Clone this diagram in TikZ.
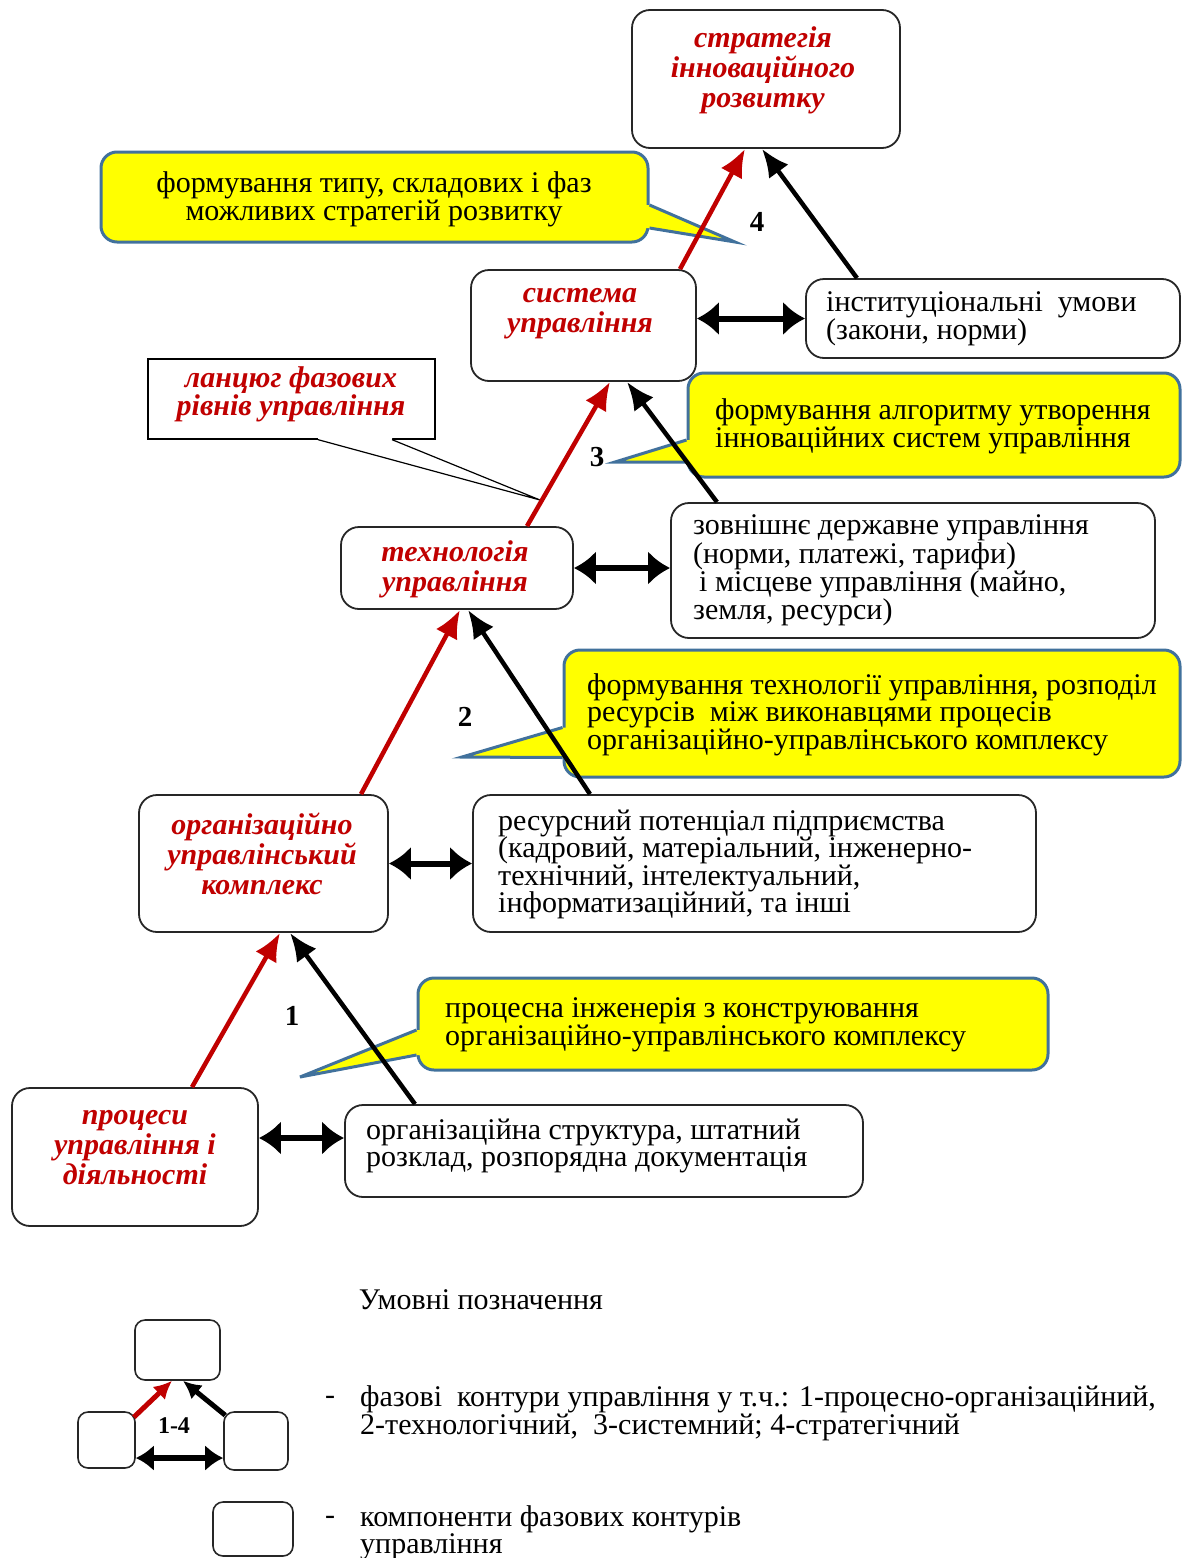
\documentclass[tikz,border=0pt]{standalone}
\usepackage{fontspec}
\setmainfont{Liberation Serif}
\usetikzlibrary{arrows.meta,calc}

\definecolor{lblred}{HTML}{C00000}
\definecolor{cofill}{HTML}{FFFF00}
\definecolor{coedge}{HTML}{41719C}

\newcommand\bodyfont{\fontsize{30}{26}\selectfont}
\newcommand\lblfont{\fontsize{30}{30}\selectfont\bfseries\itshape}

\begin{document}
\begin{tikzpicture}[x=1pt,y=-1pt,
  box/.style={draw=black!85, line width=1.8pt, rounded corners=18pt, fill=white, inner sep=0pt},
  minibox/.style={draw=black!85, line width=1.6pt, rounded corners=10pt, fill=white, inner sep=0pt},
  cobox/.style={draw=coedge, line width=3pt, rounded corners=16pt, fill=cofill, inner sep=0pt},
  coedgeline/.style={draw=coedge, line width=3pt, line join=miter},
  notebox/.style={draw=black, line width=1.3pt, fill=white, inner sep=0pt},
  redlbl/.style={text=lblred, font=\lblfont, align=center, inner sep=0pt, yshift=-2pt},
  bodytxt/.style={font=\bodyfont, align=left, anchor=west, inner sep=0pt, yshift=-3pt},
  numlbl/.style={font=\fontsize{29}{29}\selectfont\bfseries, inner sep=0pt},
  uparrow/.style={-{Latex[length=28pt,width=24pt]}, line width=4.5pt},
  redup/.style={uparrow, draw=lblred, color=lblred},
  blackup/.style={uparrow, draw=black, color=black},
  dblarrow/.style={{Latex[length=22pt,width=34pt]}-{Latex[length=22pt,width=34pt]}, line width=6pt},
  miniup/.style={-{Latex[length=18pt,width=18pt]}, line width=5pt},
  minidbl/.style={{Latex[length=18pt,width=26pt]}-{Latex[length=18pt,width=26pt]}, line width=6pt},
]
\useasboundingbox (0,0) rectangle (1182,1558);

% ---------- component boxes ----------
\node[box, minimum width=268pt, minimum height=138pt] (strat) at (766,79) {};
\node[box, minimum width=225pt, minimum height=111pt] (sys) at (583.5,325.5) {};
\node[box, minimum width=374pt, minimum height=79pt] (inst) at (993,318.5) {};
\node[box, minimum width=232pt, minimum height=82pt] (tech) at (457,568) {};
\node[box, minimum width=484pt, minimum height=135pt] (ext) at (913,570.5) {};
\node[box, minimum width=249pt, minimum height=137pt] (org) at (263.5,863.5) {};
\node[box, minimum width=563pt, minimum height=137pt] (res) at (754.5,863.5) {};
\node[box, minimum width=246pt, minimum height=138pt] (proc) at (135,1157) {};
\node[box, minimum width=518pt, minimum height=92pt] (ost) at (604,1151) {};

% ---------- yellow callouts ----------
% phase 4
\node[cobox, minimum width=547pt, minimum height=90pt] (c4) at (374.5,197) {};
\coordinate (c4tip) at (735,242);
\fill[cofill] ([xshift=-10pt,yshift=-8pt]c4.east) -- ([yshift=-8pt]c4.east) -- (c4tip)
  -- ([yshift=-31pt]c4.east) -- ([xshift=-10pt,yshift=-31pt]c4.east) -- cycle;
\draw[coedgeline] ([yshift=-8pt]c4.east) -- (c4tip) -- ([yshift=-31pt]c4.east);
% phase 3
\node[cobox, minimum width=492pt, minimum height=104pt] (c3) at (934,425) {};
\coordinate (c3tip) at (615,462);
\fill[cofill] ([xshift=10pt,yshift=-15pt]c3.west) -- ([yshift=-15pt]c3.west) -- (c3tip)
  -- ([yshift=-37pt]c3.west) -- ([xshift=10pt,yshift=-37pt]c3.west) -- cycle;
\draw[coedgeline] ([yshift=-15pt]c3.west) -- (c3tip) -- ([yshift=-37pt]c3.west);
% phase 2
\node[cobox, minimum width=616pt, minimum height=127pt] (c2) at (872,713.5) {};
\coordinate (c2tip) at (462,757);
\fill[cofill] ([xshift=10pt,yshift=-14pt]c2.west) -- ([yshift=-14pt]c2.west) -- (c2tip)
  -- ([yshift=-44pt]c2.west) -- ([xshift=10pt,yshift=-44pt]c2.west) -- cycle;
\draw[coedgeline] ([yshift=-14pt]c2.west) -- (c2tip) -- ([yshift=-44pt]c2.west);
% phase 1
\node[cobox, minimum width=630pt, minimum height=92pt] (c1) at (733,1024) {};
\coordinate (c1tip) at (300,1077);
\fill[cofill] ([xshift=10pt,yshift=-6pt]c1.west) -- ([yshift=-6pt]c1.west) -- (c1tip)
  -- ([yshift=-31pt]c1.west) -- ([xshift=10pt,yshift=-31pt]c1.west) -- cycle;
\draw[coedgeline] ([yshift=-6pt]c1.west) -- (c1tip) -- ([yshift=-31pt]c1.west);

% ---------- note on the chain of phase levels ----------
\node[notebox, minimum width=287pt, minimum height=80pt] (lanc) at (291.5,399) {};
\coordinate (lanctip) at (540,500);
\fill[white] ([xshift=26.5pt,yshift=2pt]lanc.south) -- ([xshift=26.5pt]lanc.south) -- (lanctip)
  -- ([xshift=100.5pt]lanc.south) -- ([xshift=100.5pt,yshift=2pt]lanc.south) -- cycle;
\draw[line width=1.2pt] ([xshift=26.5pt]lanc.south) -- (lanctip) -- ([xshift=100.5pt]lanc.south);

% ---------- phase contours ----------
\draw[redup] ([xshift=96.5pt]sys.north) -- ([xshift=-21pt]strat.south);
\draw[blackup] ([xshift=-136pt]inst.north) -- ([xshift=-4pt]strat.south);
\draw[redup] ([xshift=70pt]tech.north) -- ([xshift=26.5pt]sys.south);
\draw[blackup] ([xshift=-196pt]ext.north) -- ([xshift=43.5pt]sys.south);
\draw[redup] ([xshift=97.5pt]org.north) -- ([xshift=3pt]tech.south);
\draw[blackup] ([xshift=-164.5pt]res.north) -- ([xshift=11pt]tech.south);
\draw[redup] ([xshift=57pt]proc.north) -- ([xshift=16.5pt]org.south);
\draw[blackup] ([xshift=-189pt]ost.north) -- ([xshift=26.5pt]org.south);

\draw[dblarrow] (sys.east |- inst.west) -- (inst.west);
\draw[dblarrow] (tech.east) -- (ext.west |- tech.east);
\draw[dblarrow] (org.east) -- (res.west);
\draw[dblarrow] ([yshift=19pt]proc.east) -- ([yshift=13pt]ost.west);

\node[numlbl] (n4) at (757,222) {4};
\node[numlbl] (n3) at (597,457) {3};
\node[numlbl] (n2) at (465,717) {2};
\node[numlbl] (n1) at (292,1016) {1};

% ---------- texts ----------
\node[redlbl] (strat-t) at (763,68) {стратегія\\інноваційного\\розвитку};
\node[redlbl] (sys-t) at (580,312) {система\\управління};
\node[redlbl] (tech-t) at (455,567) {технологія\\управління};
\node[redlbl] (org-t) at (262,852) {організаційно\\управлінський\\комплекс};
\node[redlbl] (proc-t) at (135,1146) {процеси\\управління і\\діяльності};
\node[redlbl, font=\fontsize{30}{27}\selectfont\bfseries\itshape] (lanc-t) at (291,392) {ланцюг фазових\\рівнів управління};

\node[bodytxt] (inst-t) at (826,316) {інституціональні~ умови\\(закони, норми)};
\node[bodytxt, font=\fontsize{30}{24.5}\selectfont] (ext-t) at (693,567.5) {зовнішнє державне управління\\(норми, платежі, тарифи)\\\hspace{6pt}і місцеве управління (майно,\\земля, ресурси)};
\node[bodytxt, font=\fontsize{30}{27.5}\selectfont] (res-t) at (498,861.5) {ресурсний потенціал підприємства\\(кадровий, матеріальний, інженерно-\\технічний, інтелектуальний,\\інформатизаційний, та інші};
\node[bodytxt] (ost-t) at (366,1143) {організаційна структура, штатний\\розклад, розпорядна документація};

\node[font=\bodyfont, align=center, inner sep=0pt, yshift=-3pt] (c4-t) at (374,196) {формування типу, складових і фаз\\можливих стратегій розвитку};
\node[bodytxt, font=\fontsize{30}{27}\selectfont] (c3-t) at (715,423.5) {формування алгоритму утворення\\інноваційних систем управління};
\node[bodytxt, font=\fontsize{30}{24.5}\selectfont] (c2-t) at (587,711.5) {формування технології управління, розподіл\\ресурсів~ між виконавцями процесів\\організаційно-управлінського комплексу};
\node[bodytxt, font=\fontsize{30}{28}\selectfont] (c1-t) at (445,1022) {процесна інженерія з конструювання\\організаційно-управлінського комплексу};

% ---------- legend ----------
\node[font=\bodyfont, inner sep=0pt] (legend-title) at (481,1300) {Умовні позначення};
\node[minibox, minimum width=85pt, minimum height=60pt] (lg-top) at (177.5,1350) {};
\node[minibox, minimum width=57pt, minimum height=56pt] (lg-left) at (106.5,1440) {};
\node[minibox, minimum width=64pt, minimum height=58pt] (lg-right) at (256,1441) {};
\draw[miniup, draw=lblred, color=lblred] ([xshift=-2pt,yshift=-6pt]lg-left.north east) -- ([xshift=-5.5pt]lg-top.south);
\draw[miniup] ([xshift=2pt,yshift=-4pt]lg-right.north west) -- ([xshift=5.5pt]lg-top.south);
\draw[minidbl] ([yshift=-18pt]lg-left.east) -- ([yshift=-17pt]lg-right.west);
\node[font=\fontsize{24}{24}\selectfont\bfseries, inner sep=0pt] (lg-num) at (174,1426) {1-4};

\node[font=\bodyfont, inner sep=0pt] (dash1) at (330,1400) {-};
\node[bodytxt] (lg-t1) at (360,1410) {фазові~ контури управління у т.ч.: 1-процесно-організаційний,\\2-технологічний,~ 3-системний; 4-стратегічний};

\node[minibox, minimum width=80pt, minimum height=54pt] (lg-comp) at (253,1529) {};
\node[font=\bodyfont, inner sep=0pt] (dash2) at (330,1520) {-};
\node[bodytxt] (lg-t2) at (360,1530) {компоненти фазових контурів\\управління};
\end{tikzpicture}
\end{document}
